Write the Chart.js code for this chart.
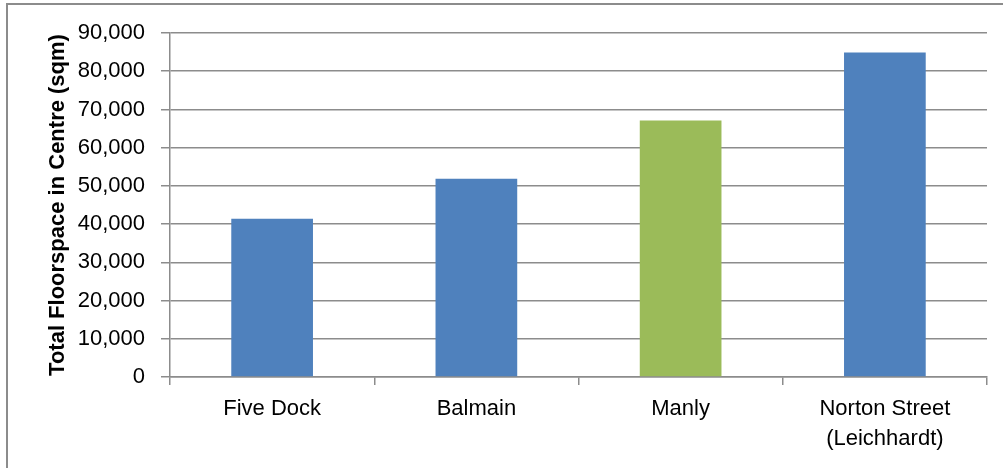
<!DOCTYPE html>
<html>
<head>
<meta charset="utf-8">
<script src="https://cdn.jsdelivr.net/npm/chart.js@4/dist/chart.umd.min.js"></script>
<style>
  html, body { margin: 0; padding: 0; background: #fff; overflow: hidden; }
  #wrap { position: relative; width: 1003px; height: 468px; overflow: hidden; }
  #frame {
    position: absolute; left: 6px; top: 3px;
    width: 1100px; height: 600px;
    border: 2px solid #8c8c8c;
  }
  #floorChart { position: absolute; left: 0; top: 0; }
</style>
</head>
<body>
<div id="wrap">
  <div id="frame"></div>
  <canvas id="floorChart" width="1003" height="468"></canvas>
</div>
<script>
const centres = ['Five Dock', 'Balmain', 'Manly', ['Norton Street', '(Leichhardt)']];
const floorspace = [41400, 51900, 67100, 84900];
const barColours = ['#4f81bd', '#4f81bd', '#9bbb59', '#4f81bd'];
const yMax = 90000;
const yStep = 10000;

const gridColour = '#8c8c8c';
const font = { family: '"Liberation Sans", Arial, sans-serif', size: 22 };

const ctx = document.getElementById('floorChart').getContext('2d');

new Chart(ctx, {
  type: 'bar',
  data: {
    labels: centres,
    datasets: [
      {
        data: floorspace,
        backgroundColor: barColours,
        borderWidth: 0,
        barPercentage: 0.4,
        categoryPercentage: 1,
      },
    ],
  },
  options: {
    responsive: false,
    animation: false,
    layout: {
      padding: { left: 45, right: 16, top: 33, bottom: 0 },
    },
    plugins: {
      legend: { display: false },
      tooltip: { enabled: false },
    },
    scales: {
      x: {
        grid: {
          display: true,
          drawOnChartArea: false,
          drawTicks: true,
          tickLength: 8,
          color: gridColour,
          lineWidth: 1.5,
        },
        border: { color: gridColour, width: 1.5 },
        ticks: {
          color: '#000',
          font: { ...font, lineHeight: 1.36 },
          padding: 9,
          maxRotation: 0,
          autoSkip: false,
        },
        afterFit(scale) {
          scale.height = 91;
        },
      },
      y: {
        min: 0,
        max: yMax,
        grid: {
          color: gridColour,
          lineWidth: 1.5,
          tickLength: 9,
        },
        border: { color: gridColour, width: 1.5 },
        ticks: {
          stepSize: yStep,
          color: '#000',
          font,
          padding: 16,
          callback: (v) => v.toLocaleString('en-US'),
        },
        title: {
          display: true,
          text: 'Total Floorspace in Centre (sqm)',
          color: '#000',
          font: { ...font, weight: 'bold' },
          padding: 0,
        },
        afterFit(scale) {
          scale.width = 170 - 45;
        },
      },
    },
  },
});
</script>
</body>
</html>
